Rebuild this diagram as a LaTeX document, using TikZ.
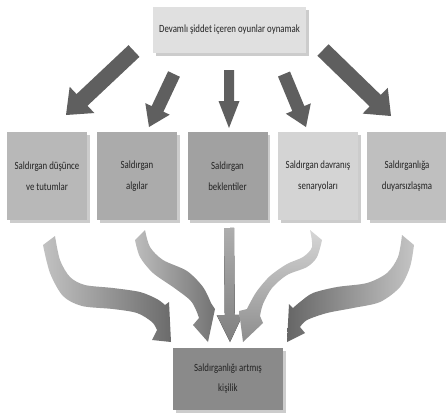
\documentclass[tikz,border=0pt]{standalone}
\usepackage{fontspec}
\setmainfont{Carlito}[FakeStretch=0.8]
\usetikzlibrary{calc,shadows}
\definecolor{txt}{HTML}{222222}
\definecolor{arrdark}{HTML}{5F5F5F}
\tikzset{
  box/.style={minimum width=80pt, minimum height=88pt, inner sep=0pt, align=center,
    text=txt, font=\fontsize{11}{21}\selectfont,
    drop shadow={shadow xshift=2.5pt, shadow yshift=-2.5pt, fill=black, opacity=0.2}},
  toparrow/.style={fill=arrdark},
}
\newcommand\blockarr[6]{%
  \coordinate (ba-c) at ($(#2)!#5!(#1)$);
  \fill[#6] ($(#1)!#3!90:(#2)$) -- ($(ba-c)!#3!-90:(#1)$) -- ($(ba-c)!#4!-90:(#1)$) -- (#2)
    -- ($(ba-c)!#4!90:(#1)$) -- ($(ba-c)!#3!90:(#1)$) -- ($(#1)!#3!-90:(#2)$) -- cycle;
}
\begin{document}
\begin{tikzpicture}[x=1pt, y=-1pt]
\useasboundingbox (0,0) rectangle (446,416);
\fill[white] (0,0) rectangle (446,416);

% top box
\node[box, fill=black!12, minimum width=153pt, minimum height=46pt] (top) at (229.5,30) {Devamlı şiddet içeren oyunlar oynamak};

% row boxes
\node[box, fill=black!28] (b1) at (47,176) {Saldırgan düşünce\\ve tutumlar};
\node[box, fill=black!33] (b2) at (137,176) {Saldırgan\\algılar};
\node[box, fill=black!37] (b3) at (227.5,176) {Saldırgan\\beklentiler};
\node[box, fill=black!17] (b4) at (318,176) {Saldırgan davranış\\senaryoları};
\node[box, fill=black!25] (b5) at (407,176) {Saldırganlığa\\duyarsızlaşma};

% bottom box
\node[box, fill=black!46, minimum width=110pt, minimum height=62pt, font=\fontsize{11}{20}\selectfont] (out) at (228,379) {Saldırganlığı artmış\\kişilik};

% top arrows
\coordinate (t1) at (134,51);  \coordinate (h1) at (66,115);
\coordinate (t2) at (174,74);  \coordinate (h2) at (149,127);
\coordinate (t3) at (229,70);  \coordinate (h3) at (229,128);
\coordinate (t4) at (284,74);  \coordinate (h4) at (306,127);
\coordinate (t5) at (323,50);  \coordinate (h5) at (391,116);
\blockarr{t1}{h1}{8pt}{18pt}{22pt}{toparrow}
\blockarr{t2}{h2}{6.5pt}{13.5pt}{20pt}{toparrow}
\blockarr{t3}{h3}{5pt}{10.5pt}{27pt}{toparrow}
\blockarr{t4}{h4}{6.5pt}{13.5pt}{20pt}{toparrow}
\blockarr{t5}{h5}{8pt}{18pt}{22pt}{toparrow}

% bottom curved arrows
% a (from b1)
\shade[left color=black!24, right color=black!58]
  (55,236) plot[smooth] coordinates {(55,236) (60,260) (70,277) (85,285) (113,288) (140,292) (157,299) (165,305)}
  -- (169,302) -- (171,342) -- (152,340) -- (157,330)
  -- plot[smooth] coordinates {(157,330) (152,322) (137,313) (113,309) (82,306) (63,296) (50,273) (43,245)}
  -- cycle;
% b (from b2)
\shade[left color=black!26, right color=black!55]
  (145,230) plot[smooth] coordinates {(145,230) (150,247) (163,260) (187,271) (203,287) (211,303)}
  -- (215,309) -- (208,342) -- (193,325) -- (199,318)
  -- plot[smooth] coordinates {(199,318) (196,310) (190,300) (173,287) (153,273) (140,257) (135,240)}
  -- cycle;
% c straight (from b3)
\coordinate (tc) at (229,228); \coordinate (hc) at (230,342);
\blockarr{tc}{hc}{5pt}{13pt}{27pt}{top color=black!32, bottom color=black!50}
% d (from b4)
\shade[top color=black!16, bottom color=black!45]
  (310,230) plot[smooth] coordinates {(310,230) (312,247) (303,257) (287,264) (270,276) (257,291) (250,303) (247,309)}
  -- (239,311) -- (243,342) -- (263,323) -- (260,316)
  -- plot[smooth] coordinates {(260,316) (263,304) (272,288) (287,275) (307,267) (317,257) (322,240)}
  -- cycle;
% e (from b5)
\shade[left color=black!60, right color=black!23]
  (402,235) plot[smooth] coordinates {(402,235) (398,257) (387,273) (367,283) (337,287) (313,293) (300,302) (293,308)}
  -- (289,304) -- (287,342) -- (305,333) -- (300,327)
  -- plot[smooth] coordinates {(300,327) (307,320) (327,313) (353,308) (380,302) (400,287) (410,267) (414,245)}
  -- cycle;
\end{tikzpicture}
\end{document}
